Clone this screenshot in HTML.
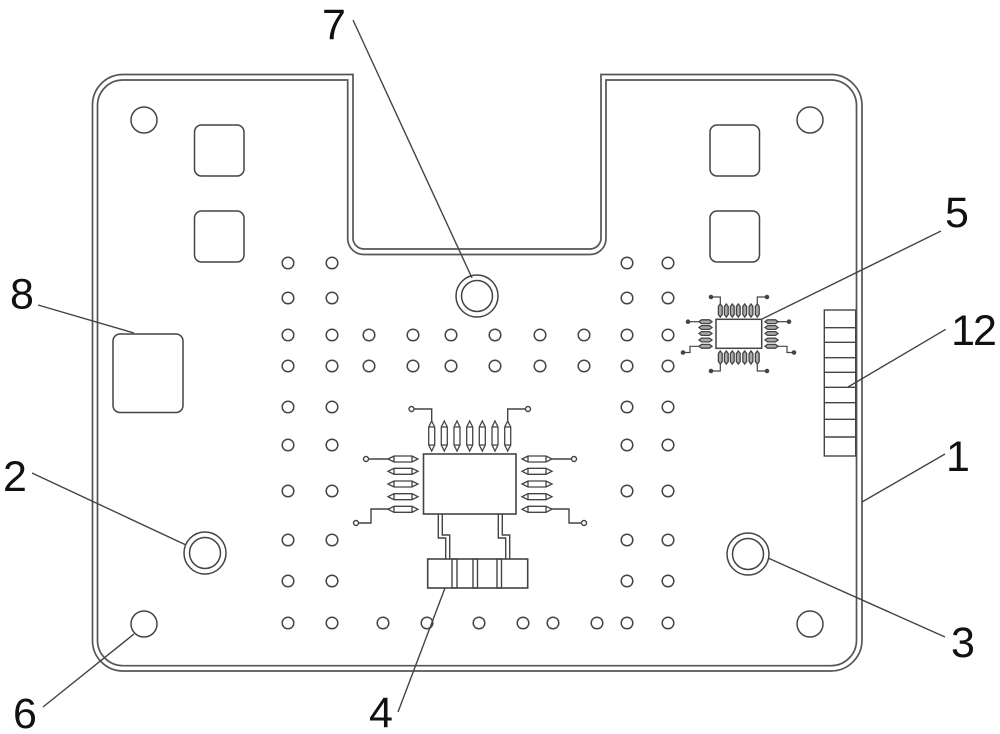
<!DOCTYPE html>
<html>
<head>
<meta charset="utf-8">
<style>
html,body{margin:0;padding:0;background:#fff;width:1000px;height:734px;overflow:hidden}
svg{display:block}
text{font-family:"Liberation Sans",sans-serif;font-size:43px;fill:#111;text-anchor:middle}
</style>
</head>
<body>
<svg width="1000" height="734" viewBox="0 0 1000 734" xmlns="http://www.w3.org/2000/svg">
<defs>
<g id="pin"><path d="M0 0L6 -3H24L30 0L24 3H6Z M6 -3V3 M24 -3V3" fill="#fff" stroke="#444" stroke-width="1.3"/></g>
<g id="spin"><path d="M0 0L2.500 -1.900H10.500L13 0L10.500 1.900H2.500Z" fill="#aaa" stroke="#444" stroke-width="1.300"/></g>
<circle id="d" r="5.800" fill="#fff" stroke="#444" stroke-width="1.500"/>
</defs>
<rect width="1000" height="734" fill="#fff"/>

<g fill="none" stroke="#555" stroke-width="1.700">
<path d="M123 74.500H353V238a11 11 0 0 0 11 11H590a11 11 0 0 0 11 -11V74.500H831a31 31 0 0 1 31 31V640a31 31 0 0 1 -31 31H123a30.500 30.500 0 0 1 -30.500 -31V105.500a30.500 30.500 0 0 1 30.500 -31Z"/>
<path d="M123 80H347.700V238.500a16 16 0 0 0 16 16H590a16 16 0 0 0 16 -16V80H831a25.500 25.500 0 0 1 25.500 25.500V640a25.500 25.500 0 0 1 -25.500 25.700H123a25.500 25.500 0 0 1 -25.500 -25.700V105.500a25.500 25.500 0 0 1 25.500 -25.500Z"/>

<g stroke="#444" stroke-width="1.500">
<circle cx="144" cy="120" r="13"/><circle cx="810" cy="120" r="13"/>
<circle cx="144" cy="624" r="13"/><circle cx="810" cy="624" r="13"/>
<circle cx="205" cy="553" r="21"/><circle cx="205" cy="553" r="15.500"/>
<circle cx="748" cy="554" r="21"/><circle cx="748" cy="554" r="15.500"/>
<circle cx="477" cy="296" r="21"/><circle cx="477" cy="296" r="15.500"/>
<rect x="194.500" y="125" width="49.500" height="51" rx="7"/>
<rect x="194.500" y="211" width="49.500" height="51" rx="7"/>
<rect x="710" y="125" width="49.500" height="51" rx="7"/>
<rect x="710" y="211" width="49.500" height="51" rx="7"/>
<rect x="113" y="334" width="70" height="78.500" rx="7"/>
</g>
</g>

<!-- via dots -->
<g>
<use href="#d" x="288" y="263"/><use href="#d" x="332" y="263"/><use href="#d" x="627" y="263"/><use href="#d" x="668" y="263"/>
<use href="#d" x="288" y="298"/><use href="#d" x="332" y="298"/><use href="#d" x="627" y="298"/><use href="#d" x="668" y="298"/>
<use href="#d" x="288" y="335"/><use href="#d" x="332" y="335"/><use href="#d" x="369" y="335"/><use href="#d" x="413" y="335"/><use href="#d" x="451" y="335"/><use href="#d" x="495" y="335"/><use href="#d" x="540" y="335"/><use href="#d" x="584" y="335"/><use href="#d" x="627" y="335"/><use href="#d" x="668" y="335"/>
<use href="#d" x="288" y="366"/><use href="#d" x="332" y="366"/><use href="#d" x="369" y="366"/><use href="#d" x="413" y="366"/><use href="#d" x="451" y="366"/><use href="#d" x="495" y="366"/><use href="#d" x="540" y="366"/><use href="#d" x="584" y="366"/><use href="#d" x="627" y="366"/><use href="#d" x="668" y="366"/>
<use href="#d" x="288" y="407"/><use href="#d" x="332" y="407"/><use href="#d" x="627" y="407"/><use href="#d" x="668" y="407"/>
<use href="#d" x="288" y="445"/><use href="#d" x="332" y="445"/><use href="#d" x="627" y="445"/><use href="#d" x="668" y="445"/>
<use href="#d" x="288" y="491"/><use href="#d" x="332" y="491"/><use href="#d" x="627" y="491"/><use href="#d" x="668" y="491"/>
<use href="#d" x="288" y="540"/><use href="#d" x="332" y="540"/><use href="#d" x="627" y="540"/><use href="#d" x="668" y="540"/>
<use href="#d" x="288" y="581"/><use href="#d" x="332" y="581"/><use href="#d" x="627" y="581"/><use href="#d" x="668" y="581"/>
<use href="#d" x="288" y="623"/><use href="#d" x="332" y="623"/><use href="#d" x="383" y="623"/><use href="#d" x="427" y="623"/><use href="#d" x="479" y="623"/><use href="#d" x="523" y="623"/><use href="#d" x="553" y="623"/><use href="#d" x="597" y="623"/><use href="#d" x="627" y="623"/><use href="#d" x="668" y="623"/>
</g>

<!-- large IC -->
<g fill="none" stroke="#444" stroke-width="1.400">
<rect x="423.500" y="454" width="92.500" height="60" stroke-width="1.600"/>
<path d="M431.700 422V409H414"/><circle cx="411.500" cy="409" r="2.500"/>
<path d="M507.700 422V409H525"/><circle cx="528" cy="409" r="2.500"/>
<path d="M390 459H369"/><circle cx="366" cy="459" r="2.500"/>
<path d="M550 459H571"/><circle cx="574" cy="459" r="2.500"/>
<path d="M392 509H371V523H358"/><circle cx="356" cy="523" r="2.500"/>
<path d="M548 509H569V523H581"/><circle cx="584" cy="523" r="2.500"/>
<path d="M438.300 514V538H445.700V559M442.300 514V535H449.700V559"/>
<path d="M498.300 514V538H505.700V559M502.300 514V535H509.700V559"/>
<rect x="427.700" y="559" width="100" height="29" stroke-width="1.600"/>
<rect x="452" y="559" width="5" height="29"/>
<rect x="473" y="559" width="4.500" height="29"/>
<rect x="497" y="559" width="4.500" height="29"/>
</g>
<g>
<use href="#pin" transform="translate(431.700 421) rotate(90)"/>
<use href="#pin" transform="translate(444.300 421) rotate(90)"/>
<use href="#pin" transform="translate(457 421) rotate(90)"/>
<use href="#pin" transform="translate(469.700 421) rotate(90)"/>
<use href="#pin" transform="translate(482.300 421) rotate(90)"/>
<use href="#pin" transform="translate(495 421) rotate(90)"/>
<use href="#pin" transform="translate(507.700 421) rotate(90)"/>
<use href="#pin" x="388" y="459"/><use href="#pin" x="388" y="471.300"/><use href="#pin" x="388" y="484"/><use href="#pin" x="388" y="496.700"/><use href="#pin" x="388" y="509.300"/>
<use href="#pin" x="522" y="459"/><use href="#pin" x="522" y="471.300"/><use href="#pin" x="522" y="484"/><use href="#pin" x="522" y="496.700"/><use href="#pin" x="522" y="509.300"/>
</g>

<!-- small IC -->
<g fill="none" stroke="#444" stroke-width="1.200">
<rect x="716" y="319.300" width="45.700" height="29" stroke-width="1.500"/>
<path d="M720.300 304V297H713"/><circle cx="711" cy="297" r="1.700" fill="#444"/>
<path d="M757.300 304V297H765"/><circle cx="767" cy="297" r="1.700" fill="#444"/>
<path d="M720.300 364V371H713"/><circle cx="711" cy="371" r="1.700" fill="#444"/>
<path d="M757.300 364V371H765"/><circle cx="767" cy="371" r="1.700" fill="#444"/>
<path d="M700 321.700H690"/><circle cx="688" cy="321.700" r="1.700" fill="#444"/>
<path d="M777 321.700H787"/><circle cx="789" cy="321.700" r="1.700" fill="#444"/>
<path d="M700 346.300H690V352.500H685"/><circle cx="683" cy="352.500" r="1.700" fill="#444"/>
<path d="M777 346.300H787V352.500H792"/><circle cx="794" cy="352.500" r="1.700" fill="#444"/>
</g>
<g>
<use href="#spin" transform="translate(720.300 304) rotate(90)"/><use href="#spin" transform="translate(726.300 304) rotate(90)"/><use href="#spin" transform="translate(732.300 304) rotate(90)"/><use href="#spin" transform="translate(738.300 304) rotate(90)"/><use href="#spin" transform="translate(744.700 304) rotate(90)"/><use href="#spin" transform="translate(751 304) rotate(90)"/><use href="#spin" transform="translate(757.300 304) rotate(90)"/>
<use href="#spin" transform="translate(720.300 351) rotate(90)"/><use href="#spin" transform="translate(726.300 351) rotate(90)"/><use href="#spin" transform="translate(732.300 351) rotate(90)"/><use href="#spin" transform="translate(738.300 351) rotate(90)"/><use href="#spin" transform="translate(744.700 351) rotate(90)"/><use href="#spin" transform="translate(751 351) rotate(90)"/><use href="#spin" transform="translate(757.300 351) rotate(90)"/>
<use href="#spin" x="699" y="321.700"/><use href="#spin" x="699" y="327.500"/><use href="#spin" x="699" y="333.500"/><use href="#spin" x="699" y="340"/><use href="#spin" x="699" y="346.300"/>
<use href="#spin" x="765" y="321.700"/><use href="#spin" x="765" y="327.500"/><use href="#spin" x="765" y="333.500"/><use href="#spin" x="765" y="340"/><use href="#spin" x="765" y="346.300"/>
</g>

<!-- strip -->
<g fill="none" stroke="#444" stroke-width="1.400">
<rect x="824.300" y="310" width="31.400" height="146"/>
<path d="M824.300 327.700H855.700M824.300 342.300H855.700M824.300 357.700H855.700M824.300 372.300H855.700M824.300 387.300H855.700M824.300 402.700H855.700M824.300 419.300H855.700M824.300 437H855.700"/>
</g>

<!-- leaders -->
<g stroke="#444" stroke-width="1.400" fill="none">
<path d="M353 20L472 278"/>
<path d="M38 305L134 333"/>
<path d="M32 473L186 545"/>
<path d="M43 707L134 634"/>
<path d="M398 712L445 588"/>
<path d="M945 637L768 558"/>
<path d="M945 454L862 502"/>
<path d="M945.700 329.300L848 387"/>
<path d="M941 231L762 319"/>
</g>

<text x="334" y="39">7</text>
<text x="957" y="227">5</text>
<text x="22" y="308.500">8</text>
<text x="973" y="345" letter-spacing="-2">12</text>
<text x="15" y="491">2</text>
<text x="958" y="471">1</text>
<text x="963" y="657">3</text>
<text x="25" y="728">6</text>
<text x="381" y="727">4</text>
</svg>
</body>
</html>
